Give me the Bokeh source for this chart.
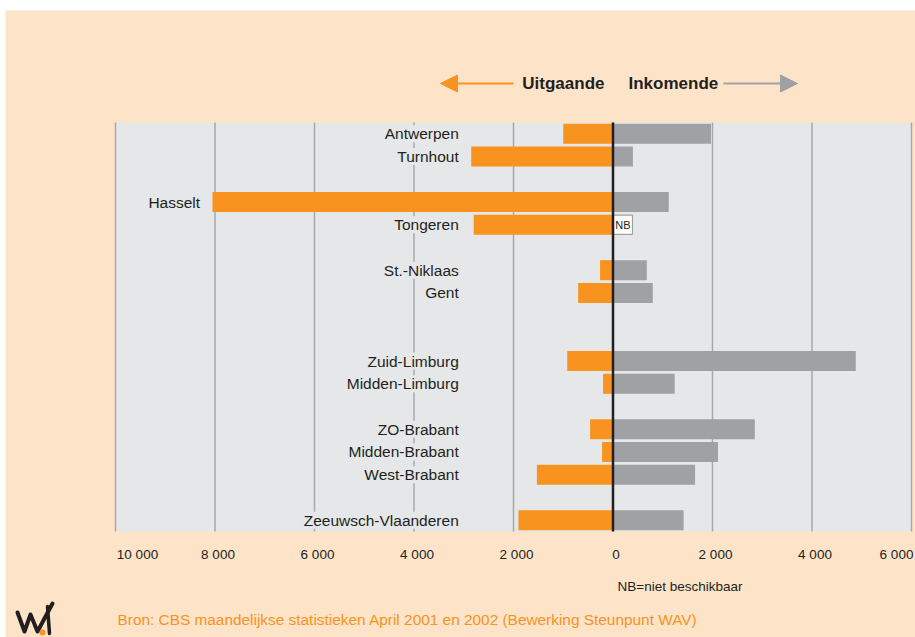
import math
from bokeh.plotting import figure
from bokeh.models import ColumnDataSource, LabelSet, Arrow, NormalHead, Range1d
from bokeh.embed import file_html
from bokeh.resources import INLINE
from bokeh.core.properties import value

# ---------------- data ----------------
regions = ["Antwerpen", "Turnhout", "Hasselt", "Tongeren", "St.-Niklaas", "Gent",
           "Zuid-Limburg", "Midden-Limburg", "ZO-Brabant", "Midden-Brabant",
           "West-Brabant", "Zeeuwsch-Vlaanderen"]
row_slot = [0, 1, 3, 4, 6, 7, 10, 11, 13, 14, 15, 17]
uitgaande = [1000, 2850, 8050, 2800, 260, 700, 920, 200, 460, 220, 1530, 1900]
inkomende = [1970, 400, 1120, float("nan"), 680, 800, 4880, 1240, 2850, 2110, 1650, 1420]
tick_values = [-10000, -8000, -6000, -4000, -2000, 0, 2000, 4000, 6000]
tick_labels = ["10 000", "8 000", "6 000", "4 000", "2 000", "0", "2 000", "4 000", "6 000"]

# ---------------- style ----------------
CREAM = "#FDE4C9"
PLOTBG = "#E6E7E8"
ORANGE = "#F7931E"
GREY = "#A0A1A4"
GRID = "#A7A9AC"
INK = "#231F20"
FONT = "Liberation Sans"
W, H = 915, 637

# plot-area geometry (pixels): -10000 at 115, 6000 at 911; slots -0.5..17.5 over 122..531
def px2x(px):
    return (px - 612.5) / (796.0 / 16000.0)

SLOT = 409.0 / 18.0

def py2y(py):
    return (py - 122.0) / SLOT - 0.5

p = figure(width=W, height=H, output_backend="svg", toolbar_location=None,
           x_range=Range1d(px2x(0), px2x(W)), y_range=Range1d(py2y(H), py2y(0)),
           min_border=0, min_border_left=0, min_border_right=0,
           min_border_top=0, min_border_bottom=0)
p.xaxis.visible = False
p.yaxis.visible = False
p.grid.visible = False
p.outline_line_color = None
p.background_fill_color = "white"
p.border_fill_color = "white"

# cream page panel
p.quad(left=px2x(5), right=px2x(W + 5), top=py2y(10), bottom=py2y(H + 5),
       fill_color=CREAM, line_color=None)

x_lo, x_hi = min(tick_values), max(tick_values)
y_top, y_bot = min(row_slot) - 0.5, max(row_slot) + 0.5
# plot area
p.quad(left=x_lo, right=x_hi, top=y_top, bottom=y_bot, fill_color=PLOTBG, line_color=None)
# vertical grid lines
p.segment(x0=tick_values, y0=[y_top] * len(tick_values), x1=tick_values,
          y1=[y_bot] * len(tick_values), line_color=GRID, line_width=1.5)

bar_h = 0.88
src = ColumnDataSource(dict(
    y=row_slot,
    name=regions,
    out_left=[-v for v in uitgaande],
    inc=[0 if math.isnan(v) else v for v in inkomende],
    lx=[min(-3100, -v - 250) for v in uitgaande],
))
p.hbar(y="y", left="out_left", right=0, height=bar_h, source=src,
       fill_color=ORANGE, line_color=None)
p.hbar(y="y", left=0, right="inc", height=bar_h, source=src,
       fill_color=GREY, line_color=None)

# NB markers where incoming is not available
nb_y = [s for s, v in zip(row_slot, inkomende) if math.isnan(v)]
nb_src = ColumnDataSource(dict(y=nb_y, x=[px2x(622.5)] * len(nb_y), t=["NB"] * len(nb_y)))
p.rect(x="x", y="y", width=19, width_units="screen", height=0.84, source=nb_src,
       fill_color="white", line_color=GREY, line_width=1.2)
p.text(x="x", y="y", text="t", source=nb_src, text_align="center",
       text_baseline="middle", text_font=value(FONT), text_font_size="11px",
       text_color=INK)

# zero line
p.segment(x0=[0], y0=[y_top], x1=[0], y1=[y_bot], line_color=INK, line_width=2.5)

# category labels (background hides the grid line behind them)
labels = LabelSet(x="lx", y="y", text="name", source=src, text_align="right",
                  text_baseline="middle", text_font=value(FONT),
                  text_font_size="15.5px", text_color=INK,
                  background_fill_color=PLOTBG)
p.add_layout(labels)

# x tick labels (first and last nudged inward so they stay on the page)
tick_src = ColumnDataSource(dict(
    x=tick_values, t=tick_labels, y=[py2y(554)] * len(tick_values),
    off=[22 if v == x_lo else (-15 if v == x_hi else 3) for v in tick_values]))
p.text(x="x", y="y", text="t", x_offset="off", source=tick_src, text_align="center",
       text_baseline="middle", text_font=value(FONT), text_font_size="13.5px",
       text_color=INK)

# header
hy = py2y(83)
p.text(x=[px2x(604)], y=[hy], text=["Uitgaande"], text_align="right",
       text_baseline="middle", text_font=value(FONT), text_font_size="17px",
       text_font_style="bold", text_color=INK)
p.text(x=[px2x(628)], y=[hy], text=["Inkomende"], text_align="left",
       text_baseline="middle", text_font=value(FONT), text_font_size="17px",
       text_font_style="bold", text_color=INK)
p.add_layout(Arrow(end=NormalHead(size=17, fill_color=ORANGE, line_color=ORANGE),
                   x_start=px2x(513), y_start=hy, x_end=px2x(440), y_end=hy,
                   line_color=ORANGE, line_width=2))
p.add_layout(Arrow(end=NormalHead(size=17, fill_color=GREY, line_color=GREY),
                   x_start=px2x(723), y_start=hy, x_end=px2x(797), y_end=hy,
                   line_color=GREY, line_width=2))

# footnotes
p.text(x=[px2x(617)], y=[py2y(586)], text=["NB=niet beschikbaar"], text_align="left",
       text_baseline="middle", text_font=value(FONT), text_font_size="13.5px",
       text_color=INK)
p.text(x=[px2x(117)], y=[py2y(619)],
       text=["Bron: CBS maandelijkse statistieken April 2001 en 2002 (Bewerking Steunpunt WAV)"],
       text_align="left", text_baseline="middle", text_font=value(FONT),
       text_font_size="15.4px", text_color=ORANGE)

# logo (decorative strokes)
logo_px = [(17, 612), (24, 631), (30, 614), (37, 631), (52, 603)]
p.line(x=[px2x(a) for a, b in logo_px], y=[py2y(b) for a, b in logo_px],
       line_color=INK, line_width=4, line_join="round", line_cap="round")
p.line(x=[px2x(47), px2x(49)], y=[py2y(606), py2y(633)],
       line_color=INK, line_width=3.5, line_cap="round")
p.scatter(x=[px2x(42)], y=[py2y(632)], size=6, fill_color=ORANGE, line_color=None)

open("out.html", "w").write(file_html(p, INLINE))
